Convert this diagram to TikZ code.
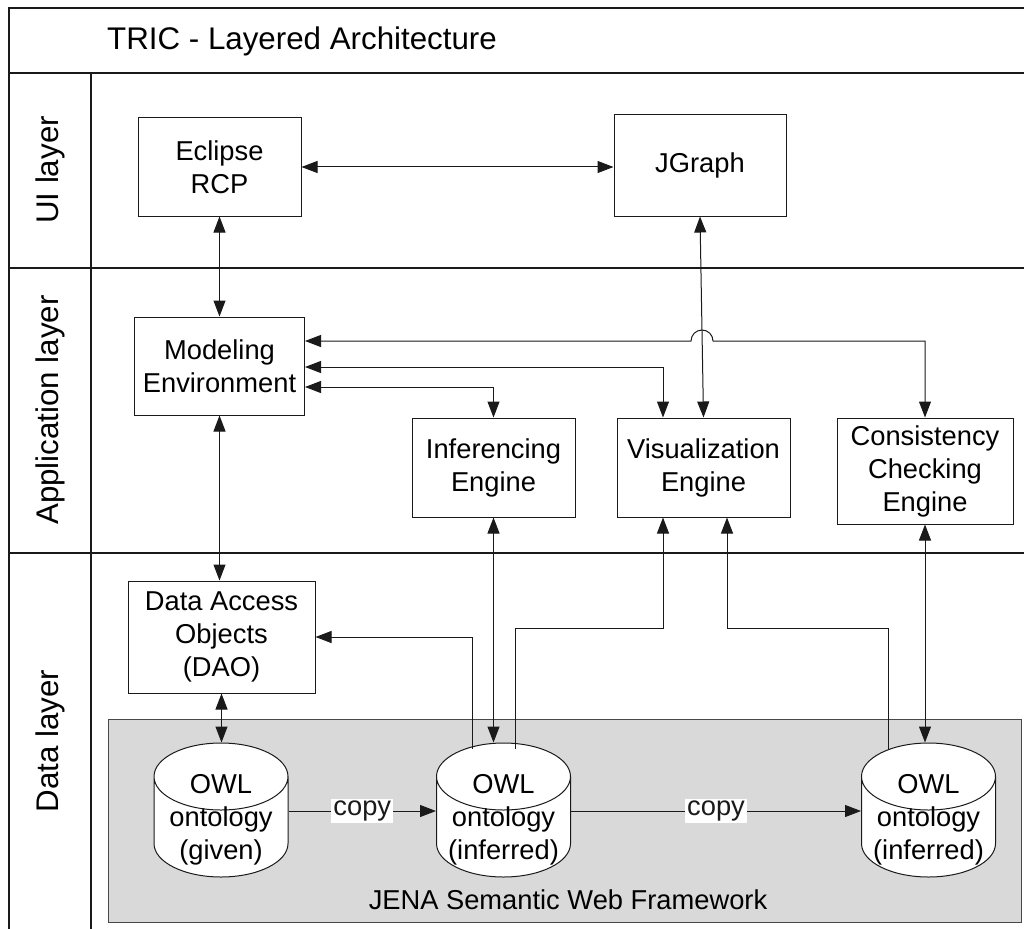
\documentclass[tikz,border=0pt]{standalone}
\usepackage{fontspec}
\setmainfont{Liberation Sans}
\definecolor{edge}{HTML}{1A1A1A}
\definecolor{jenagray}{HTML}{D9D9D9}
\usepackage{tikz}
\usetikzlibrary{arrows.meta, shapes.geometric}
\newcommand{\boxfont}{\fontsize{27.3}{33}\selectfont}
\newcommand{\bigfont}{\fontsize{31.3}{38}\selectfont}

\begin{document}
\begin{tikzpicture}[
            x=1pt, y=-1pt,
            box/.style={draw=edge, line width=1pt, fill=white, inner sep=0pt,
                        font=\boxfont, align=center},
            db/.style={cylinder, shape border rotate=90, aspect=0.5,
                       draw=edge, line width=1pt, fill=white, inner sep=0pt,
                       minimum width=134pt, minimum height=134pt},
            dbtext/.style={inner sep=0pt, font=\boxfont, align=center},
            layer/.style={rotate=90, font=\bigfont},
            frame/.style={line width=1.3pt, color=edge},
            arr/.style={-{Triangle[length=16pt,width=12pt]}, line width=1pt, color=edge},
            dbl/.style={{Triangle[length=16pt,width=12pt]}-{Triangle[length=16pt,width=12pt]},
                        line width=1pt, color=edge},
            lbl/.style={fill=white, inner sep=2pt, font=\boxfont}
          ]
          \useasboundingbox (0,0) rectangle (1024,928);
          \fill[white] (0,0) rectangle (1024,928);
          % frame and layers
          \draw[frame] (9,940) -- (9,8) -- (1030,8);
          \draw[frame] (9,73) -- (1030,73);
          \draw[frame] (9,268) -- (1030,268);
          \draw[frame] (9,553) -- (1030,553);
          \draw[frame] (91,73) -- (91,940);
          \node[anchor=base west, inner sep=0pt, font=\bigfont] (title) at (107,50) {TRIC - Layered Architecture};
          \node[layer] (uilbl) at (50,170) {UI layer};
          \node[layer] (applbl) at (50,410) {Application layer};
          \node[layer] (datalbl) at (50,741) {Data layer};

          \node[box, minimum width=163pt, minimum height=98pt] (eclipse) at (219.5,167) {Eclipse\\RCP};
          \node[box, minimum width=172pt, minimum height=101pt] (jgraph) at (700,165.5) {JGraph};
          \node[box, minimum width=170pt, minimum height=98pt] (modeling) at (219.5,366) {Modeling\\Environment};
          \node[box, minimum width=163pt, minimum height=99pt] (infer) at (493.5,467.5) {Inferencing\\Engine};
          \node[box, minimum width=173pt, minimum height=99pt] (visual) at (703.5,467.5) {Visualization\\Engine};
          \node[box, minimum width=176pt, minimum height=106pt] (consist) at (925,471) {Consistency\\Checking\\Engine};
          \node[box, minimum width=187pt, minimum height=112pt] (dao) at (221.5,637) {Data Access\\Objects\\(DAO)};

          \node[draw=edge!80, line width=1pt, fill=jenagray, inner sep=0pt,
                minimum width=913pt, minimum height=203pt] (jena) at (564.5,820.5) {};
          \node[anchor=base, font=\boxfont] (jenalbl) at (568,909) {JENA Semantic Web Framework};
          \node[db] (given) at (221,827) {\rule{134pt}{0pt}};
          \node[db] (infone) at (503.5,827) {\rule{134pt}{0pt}};
          \node[db] (inftwo) at (928.5,827) {\rule{134pt}{0pt}};
          \node[dbtext] (giventxt) at (221,820) {OWL\\ontology\\(given)};
          \node[dbtext] (infonetxt) at (503.5,820) {OWL\\ontology\\(inferred)};
          \node[dbtext] (inftwotxt) at (928.5,820) {OWL\\ontology\\(inferred)};

          \draw[dbl] (eclipse.east) -- (eclipse.east -| jgraph.west);
          \draw[dbl] (eclipse.south) -- (modeling.north);
          \draw[dbl] (jgraph.south) -- (visual.north);
          \draw[dbl] ([yshift=25pt]modeling.east) -- (691,341)
                     arc[start angle=180, end angle=0, radius=11pt] -| (consist.north);
          \draw[dbl] ([yshift=-1pt]modeling.east) -| ([xshift=-40.5pt]visual.north);
          \draw[dbl] ([yshift=-21pt]modeling.east) -| (infer.north);
          \draw[dbl] (modeling.south) -- (modeling.south |- dao.north);
          \draw[dbl] (dao.south) -- (dao.south |- given.north);
          \draw[dbl] (infer.south) -- (infer.south |- infone.north);
          \draw[dbl] (consist.south) -- (consist.south |- inftwo.north);
          \draw[arr] ([xshift=-31.5pt,yshift=-6pt]infone.north) |- (dao.east);
          \draw[arr] ([xshift=11.5pt,yshift=-6pt]infone.north) |- (663,628)
                     -- ([xshift=-40.5pt]visual.south);
          \draw[arr] ([xshift=-40.5pt,yshift=-6pt]inftwo.north) |- (727,628)
                     -- ([xshift=23.5pt]visual.south);
          \draw[arr] ([yshift=16pt]given.east) -- node[lbl] {copy} ([yshift=16pt]infone.west);
          \draw[arr] ([yshift=16pt]infone.east) -- node[lbl] {copy} ([yshift=16pt]inftwo.west);
        \end{tikzpicture}
\end{document}
